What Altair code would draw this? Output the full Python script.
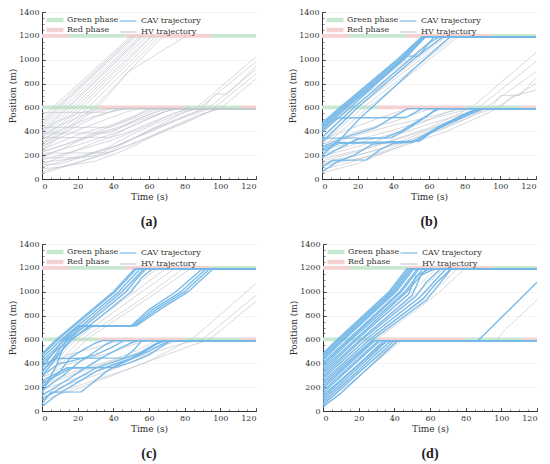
import altair as alt
import pandas as pd

# ---------------- signal phases (s) at the two stop lines (m) ----------------
phase_loc = [600, 600, 600, 600, 1200, 1200, 1200, 1200]
phase_start = [0, 32, 80, 112, 0, 15, 47, 95]
phase_end = [32, 80, 112, 120, 15, 47, 95, 120]
phase_kind = ["Green phase", "Red phase", "Green phase", "Red phase",
              "Red phase", "Green phase", "Red phase", "Green phase"]

# ---------------- trajectories: lists of (time s, position m) ----------------
a_cav = []
a_hv = [
    [(0, 505), (6, 600), (50, 1200)],
    [(0, 485), (8, 600), (51, 1200)],
    [(0, 465), (9, 600), (52, 1200)],
    [(0, 450), (10, 600), (53, 1200)],
    [(0, 430), (12, 600), (55, 1200)],
    [(0, 410), (14, 600), (56, 1200)],
    [(0, 390), (15, 600), (57, 1200)],
    [(0, 370), (17, 600), (59, 1200)],
    [(0, 345), (19, 600), (61, 1200)],
    [(0, 320), (21, 600), (62, 1200)],
    [(0, 300), (23, 600), (64, 1200)],
    [(0, 280), (26, 600), (66, 1200)],
    [(0, 260), (29, 600), (68, 1200)],
    [(0, 240), (31, 600), (49, 905), (81, 1200)],
    [(0, 558), (38, 560), (43, 590), (86, 590), (120, 1025)],
    [(0, 432), (38, 434), (50, 510), (58, 565), (63, 590), (88, 590), (120, 985)],
    [(0, 383), (38, 386), (52, 490), (64, 560), (70, 590), (90, 590), (97, 710), (104, 712), (120, 945)],
    [(0, 346), (38, 350), (54, 470), (68, 560), (74, 590), (93, 590), (120, 920)],
    [(0, 216), (37, 220), (50, 330), (64, 440), (78, 545), (86, 590), (96, 590), (120, 880)],
    [(0, 176), (22, 180), (36, 260), (50, 370), (66, 480), (80, 565), (88, 590), (100, 590), (120, 840)],
    [(0, 121), (10, 125), (26, 200), (44, 290), (62, 420), (80, 530), (92, 590), (120, 590)],
    [(0, 300), (18, 430), (30, 520), (40, 570), (46, 590), (120, 590)],
    [(0, 275), (20, 410), (36, 500), (48, 565), (54, 590), (120, 590)],
    [(0, 250), (22, 380), (38, 450), (52, 530), (60, 590), (120, 590)],
    [(0, 200), (20, 285), (40, 380), (58, 490), (70, 570), (76, 590), (120, 590)],
    [(0, 160), (20, 240), (40, 330), (58, 440), (74, 550), (82, 590), (120, 590)],
    [(0, 100), (16, 170), (40, 270), (60, 390), (78, 510), (90, 590), (120, 590)],
    [(0, 60), (20, 140), (40, 235), (60, 350), (80, 470), (96, 580), (100, 590), (120, 590)],
    [(0, 85), (10, 100), (30, 150), (46, 240), (64, 370), (84, 500), (98, 590), (120, 590)],
    [(0, 140), (30, 195), (48, 320), (68, 450), (88, 560), (94, 590), (120, 590)],
    [(0, 225), (15, 300), (35, 420), (50, 500), (60, 560), (66, 590), (120, 590)],
    [(0, 330), (12, 420), (28, 520), (38, 560), (44, 580), (50, 590), (120, 590)],
    [(0, 180), (12, 260), (30, 380), (44, 440), (56, 520), (66, 575), (72, 590), (120, 590)],
    [(0, 120), (14, 210), (32, 320), (48, 390), (62, 480), (76, 560), (84, 590), (120, 590)],
    [(0, 45), (14, 110), (34, 200), (52, 300), (70, 420), (88, 540), (100, 590), (120, 590)],
    [(0, 360), (10, 450), (24, 540), (34, 575), (40, 590), (120, 590)],
    [(0, 400), (8, 480), (20, 550), (30, 580), (36, 590), (120, 590)],
    [(0, 230), (24, 340), (42, 420), (56, 500), (68, 560), (76, 590), (120, 590)],
]

b_cav = [
    [(0, 470), (10, 600), (42, 1000), (56, 1193), (120, 1193)],
    [(0, 458), (11, 600), (43, 1000), (57, 1193), (120, 1193)],
    [(0, 445), (12, 600), (44, 1000), (57, 1193), (120, 1193)],
    [(0, 430), (13, 600), (45, 1000), (58, 1193), (120, 1193)],
    [(0, 410), (14, 600), (46, 1000), (58, 1193), (120, 1193)],
    [(0, 395), (16, 600), (47, 1030), (54, 1030), (63, 1193), (120, 1193)],
    [(0, 345), (18, 600), (49, 1000), (60, 1140), (66, 1193), (120, 1193)],
    [(0, 305), (20, 600), (51, 1000), (68, 1193), (120, 1193)],
    [(0, 200), (10, 330), (22, 520), (28, 600), (55, 970), (72, 1193), (120, 1193)],
    [(0, 440), (9, 512), (47, 515), (56, 590), (120, 590)],
    [(0, 343), (39, 345), (48, 420), (56, 500), (62, 560), (66, 590), (120, 590)],
    [(0, 250), (8, 305), (51, 312), (60, 390), (68, 460), (78, 530), (86, 575), (90, 590), (120, 590)],
    [(0, 235), (10, 300), (50, 305), (58, 360), (66, 430), (74, 500), (82, 560), (88, 590), (120, 590)],
    [(0, 100), (6, 157), (25, 160), (32, 240), (40, 300), (55, 320), (62, 400), (72, 470), (80, 520), (88, 575), (91, 590), (120, 590)],
    [(0, 60), (8, 140), (18, 200), (28, 290), (38, 310), (54, 318), (64, 420), (74, 490), (84, 560), (89, 590), (120, 590)],
    [(0, 180), (10, 260), (20, 335), (35, 345), (44, 400), (52, 470), (60, 540), (64, 590), (120, 590)],
    [(0, 270), (12, 345), (30, 430), (40, 520), (48, 590), (120, 590)],
]
b_hv = [
    [(0, 420), (13, 600), (48, 1000), (64, 1200)],
    [(0, 380), (15, 600), (50, 1000), (68, 1200)],
    [(0, 350), (17, 600), (53, 1000), (70, 1200)],
    [(0, 320), (20, 600), (55, 1000), (73, 1200)],
    [(0, 290), (23, 600), (58, 1000), (75, 1200)],
    [(0, 260), (26, 600), (60, 1000), (77, 1200)],
    [(0, 330), (12, 400), (30, 500), (44, 570), (50, 590), (120, 590)],
    [(0, 290), (20, 400), (40, 480), (55, 560), (62, 590), (120, 590)],
    [(0, 210), (20, 300), (40, 380), (56, 470), (70, 560), (76, 590), (120, 590)],
    [(0, 150), (20, 230), (40, 330), (60, 430), (76, 540), (82, 590), (120, 590)],
    [(0, 120), (18, 190), (38, 280), (58, 400), (78, 520), (86, 590), (120, 590)],
    [(0, 80), (16, 140), (36, 240), (56, 370), (76, 490), (88, 590), (120, 590)],
    [(0, 50), (20, 130), (40, 250), (60, 380), (80, 500), (92, 590), (120, 590)],
    [(0, 260), (20, 370), (40, 450), (60, 520), (76, 580), (84, 600), (120, 1060)],
    [(0, 230), (20, 330), (40, 410), (60, 500), (78, 570), (88, 600), (120, 985)],
    [(0, 190), (24, 290), (44, 380), (62, 470), (80, 550), (92, 600), (120, 900)],
    [(0, 170), (26, 260), (46, 350), (66, 450), (84, 550), (95, 600), (100, 700), (111, 702), (120, 850)],
    [(0, 135), (28, 230), (48, 320), (68, 420), (86, 540), (98, 600), (120, 800)],
    [(0, 110), (30, 200), (50, 300), (70, 400), (88, 520), (100, 600), (106, 690), (120, 745)],
]

c_cav = [
    [(0, 480), (8, 600), (40, 1000), (52, 1193), (120, 1193)],
    [(0, 465), (9, 600), (41, 1000), (53, 1193), (120, 1193)],
    [(0, 445), (11, 600), (43, 1000), (55, 1193), (120, 1193)],
    [(0, 420), (13, 600), (45, 1000), (57, 1193), (120, 1193)],
    [(0, 400), (15, 600), (47, 1000), (58, 1193), (120, 1193)],
    [(0, 330), (17, 600), (50, 1000), (56, 1120), (62, 1193), (120, 1193)],
    [(0, 360), (12, 600), (20, 712), (50, 715), (60, 850), (75, 1000), (90, 1193), (120, 1193)],
    [(0, 320), (14, 600), (24, 712), (51, 715), (62, 850), (78, 1000), (92, 1193), (120, 1193)],
    [(0, 290), (16, 600), (28, 712), (52, 715), (64, 850), (80, 1000), (94, 1193), (120, 1193)],
    [(0, 150), (8, 380), (15, 650), (22, 712), (53, 715), (66, 850), (82, 1000), (96, 1193), (120, 1193)],
    [(0, 380), (8, 440), (46, 445), (52, 520), (56, 590), (120, 590)],
    [(0, 300), (10, 400), (14, 410), (30, 470), (40, 540), (46, 590), (120, 590)],
    [(0, 250), (14, 362), (40, 365), (50, 440), (58, 500), (64, 560), (68, 590), (120, 590)],
    [(0, 230), (16, 360), (42, 368), (52, 420), (60, 470), (66, 530), (72, 590), (120, 590)],
    [(0, 60), (5, 158), (22, 160), (28, 230), (36, 330), (44, 400), (52, 450), (60, 500), (66, 550), (72, 590), (120, 590)],
    [(0, 40), (8, 130), (20, 240), (30, 330), (40, 390), (50, 440), (58, 510), (64, 560), (70, 590), (120, 590)],
    [(0, 200), (10, 330), (16, 450), (24, 520), (30, 570), (34, 590), (120, 590)],
    [(0, 170), (12, 300), (20, 400), (28, 480), (36, 560), (40, 590), (120, 590)],
    [(0, 130), (14, 260), (24, 360), (34, 450), (44, 530), (50, 570), (54, 590), (120, 590)],
    [(0, 100), (16, 240), (30, 360), (40, 410), (54, 480), (62, 550), (67, 590), (120, 590)],
]
c_hv = [
    [(0, 440), (10, 600), (44, 1000), (60, 1200)],
    [(0, 380), (13, 600), (48, 1000), (65, 1200)],
    [(0, 340), (16, 600), (52, 1000), (70, 1200)],
    [(0, 300), (19, 600), (56, 1000), (75, 1200)],
    [(0, 270), (22, 600), (58, 960), (66, 1050), (80, 1200)],
    [(0, 240), (25, 600), (60, 950), (84, 1200)],
    [(0, 350), (14, 470), (30, 530), (40, 575), (46, 590), (120, 590)],
    [(0, 280), (16, 400), (36, 480), (50, 550), (58, 590), (120, 590)],
    [(0, 220), (18, 330), (38, 420), (54, 510), (64, 590), (120, 590)],
    [(0, 150), (20, 250), (40, 350), (58, 460), (70, 560), (74, 590), (120, 590)],
    [(0, 90), (20, 190), (40, 300), (60, 420), (76, 540), (82, 590), (120, 590)],
    [(0, 210), (20, 320), (40, 420), (60, 520), (74, 580), (84, 600), (120, 1070)],
    [(0, 180), (22, 290), (44, 400), (64, 500), (80, 570), (90, 600), (120, 970)],
    [(0, 120), (24, 230), (46, 340), (66, 450), (84, 550), (94, 600), (120, 920)],
]

d_cav = [
    [(0, 485), (8, 600), (37, 1000), (47, 1193), (120, 1193)],
    [(0, 470), (9, 600), (38, 1000), (48, 1193), (120, 1193)],
    [(0, 455), (10, 600), (39, 1000), (49, 1193), (120, 1193)],
    [(0, 440), (11, 600), (40, 1000), (50, 1193), (120, 1193)],
    [(0, 425), (12, 600), (41, 1000), (51, 1193), (120, 1193)],
    [(0, 405), (14, 600), (43, 1000), (53, 1193), (120, 1193)],
    [(0, 390), (15, 600), (44, 1000), (54, 1193), (120, 1193)],
    [(0, 370), (16, 600), (46, 1000), (56, 1193), (120, 1193)],
    [(0, 350), (18, 600), (47, 1000), (58, 1193), (120, 1193)],
    [(0, 330), (19, 600), (48, 980), (52, 1130), (60, 1193), (120, 1193)],
    [(0, 310), (21, 600), (50, 970), (55, 1140), (63, 1193), (120, 1193)],
    [(0, 290), (22, 600), (52, 960), (58, 1080), (66, 1193), (120, 1193)],
    [(0, 270), (24, 600), (54, 950), (62, 1080), (69, 1193), (120, 1193)],
    [(0, 250), (26, 600), (56, 940), (64, 1080), (72, 1193), (120, 1193)],
    [(0, 230), (28, 600), (58, 930), (66, 1080), (72, 1193), (120, 1193)],
    [(0, 210), (28, 590), (120, 590)],
    [(0, 190), (29, 590), (120, 590)],
    [(0, 170), (31, 590), (120, 590)],
    [(0, 150), (32, 590), (120, 590)],
    [(0, 130), (33, 560), (36, 590), (120, 590)],
    [(0, 110), (34, 590), (120, 590)],
    [(0, 90), (36, 590), (120, 590)],
    [(0, 70), (38, 590), (120, 590)],
    [(0, 50), (40, 590), (120, 590)],
    [(0, 35), (10, 150), (42, 590), (87, 590), (120, 1080)],
]
d_hv = [
    [(0, 360), (18, 600), (50, 1000), (64, 1200)],
    [(0, 320), (21, 600), (54, 1000), (68, 1200)],
    [(0, 280), (24, 600), (58, 1000), (72, 1200)],
    [(0, 240), (27, 600), (62, 1000), (76, 1200)],
    [(0, 200), (30, 600), (64, 980), (80, 1200)],
    [(0, 100), (20, 330), (42, 590), (120, 590)],
    [(0, 60), (20, 290), (44, 590), (120, 590)],
    [(0, 140), (36, 560), (40, 590), (120, 590)],
    [(0, 80), (42, 590), (97, 590), (102, 680), (120, 930)],
]

panel_tags = ["(a)", "(b)", "(c)", "(d)"]

# ---------------- styling ----------------
BLUE = "#74b7e8"
GREY = "#c2c7ce"
BAR_HALF = 16
FONT = "DejaVu Serif"
W, H = 214, 167


def traj_df(trajs, label, prefix):
    rows = []
    for i, tr in enumerate(trajs):
        for k, (t, y) in enumerate(tr):
            rows.append({"vid": f"{prefix}{i}", "type": label, "t": t, "y": y, "k": k})
    return pd.DataFrame(rows, columns=["vid", "type", "t", "y", "k"])


ph = pd.DataFrame({
    "t0": phase_start,
    "t1": phase_end,
    "lo": [p - BAR_HALF for p in phase_loc],
    "hi": [p + BAR_HALF for p in phase_loc],
    "phase": phase_kind,
})

xvals = list(range(0, 121, 20))
yvals = list(range(0, 1401, 200))
xminor = list(range(0, 121, 5))
yminor = list(range(0, 1401, 50))


def panel(cav, hv, tag):
    xs = alt.Scale(domain=[0, 120], nice=False)
    ys = alt.Scale(domain=[0, 1400], nice=False)
    fill_scale = alt.Scale(domain=["Green phase", "Red phase"], range=["#c9e8d1", "#f6d1d1"])
    stroke_scale = alt.Scale(domain=["CAV trajectory", "HV trajectory"], range=[BLUE, GREY])

    main_x = alt.Axis(values=xvals, title="Time (s)", ticks=False, grid=False, format="d",
                      domainColor="#333", domainWidth=1, labelPadding=3, titlePadding=2)
    main_y = alt.Axis(values=yvals, title="Position (m)", ticks=False, grid=True, format="d",
                      gridColor="#ededed", gridWidth=0.6, domainColor="#333", domainWidth=1,
                      labelPadding=3, titlePadding=1)
    major_x = alt.Axis(values=xvals, orient="bottom", labels=False, domain=False, grid=False,
                       title=None, tickSize=3.5, offset=-3.5, tickColor="#333", tickWidth=0.8)
    major_y = alt.Axis(values=yvals, orient="left", labels=False, domain=False, grid=False,
                       title=None, tickSize=3.5, offset=-3.5, tickColor="#333", tickWidth=0.8)
    minor_x = alt.Axis(values=xminor, orient="bottom", labels=False, domain=False, grid=False,
                       title=None, tickSize=2, offset=-2, tickColor="#333", tickWidth=0.6)
    minor_y = alt.Axis(values=yminor, orient="left", labels=False, domain=False, grid=False,
                       title=None, tickSize=2, offset=-2, tickColor="#333", tickWidth=0.6)

    fill_legend = alt.Legend(orient="none", legendX=8, legendY=3, title=None,
                             symbolType="M-1.7,-0.45H1.7V0.45H-1.7Z", symbolSize=100,
                             symbolStrokeWidth=0, labelOffset=7, padding=0, rowPadding=1,
                             labelFont=FONT, labelFontSize=8, labelColor="#333")
    stroke_legend = alt.Legend(orient="none", legendX=80, legendY=3, title=None,
                               symbolType="M-1.7,0H1.7", symbolSize=100,
                               symbolStrokeWidth=1.3, labelOffset=7, padding=0, rowPadding=1,
                               labelFont=FONT, labelFontSize=8, labelColor="#333")

    bars = alt.Chart(ph).mark_rect(strokeWidth=0).encode(
        x=alt.X("t0:Q", scale=xs, axis=main_x),
        x2="t1:Q",
        y=alt.Y("lo:Q", scale=ys, axis=main_y),
        y2="hi:Q",
        fill=alt.Fill("phase:N", scale=fill_scale, legend=fill_legend),
    )
    hv_layer = alt.Chart(traj_df(hv, "HV trajectory", "h")).mark_line(
        strokeWidth=0.8, opacity=0.85).encode(
        x=alt.X("t:Q", scale=xs, axis=major_x),
        y=alt.Y("y:Q", scale=ys, axis=major_y),
        detail="vid:N",
        order="k:Q",
        stroke=alt.Stroke("type:N", scale=stroke_scale, legend=stroke_legend),
    )
    cav_layer = alt.Chart(traj_df(cav, "CAV trajectory", "c")).mark_line(
        strokeWidth=1.4, opacity=0.95).encode(
        x=alt.X("t:Q", scale=xs, axis=None),
        y=alt.Y("y:Q", scale=ys, axis=None),
        detail="vid:N",
        order="k:Q",
        stroke=alt.Stroke("type:N", scale=stroke_scale, legend=stroke_legend),
    )
    minor = alt.Chart(ph).mark_point(opacity=0).encode(
        x=alt.X("t0:Q", scale=xs, axis=minor_x),
        y=alt.Y("lo:Q", scale=ys, axis=minor_y),
    )
    return alt.layer(bars, hv_layer, cav_layer, minor).resolve_axis(
        x="independent", y="independent"
    ).properties(
        width=W, height=H,
        title=alt.TitleParams(tag, orient="bottom", font="Liberation Serif", fontSize=14,
                              fontWeight="bold", color="#222", offset=14),
    )


pa = panel(a_cav, a_hv, panel_tags[0])
pb = panel(b_cav, b_hv, panel_tags[1])
pc = panel(c_cav, c_hv, panel_tags[2])
pd_ = panel(d_cav, d_hv, panel_tags[3])

top = alt.hconcat(pa, pb, spacing=30).resolve_scale(fill="independent", stroke="independent")
bottom = alt.hconcat(pc, pd_, spacing=30).resolve_scale(fill="independent", stroke="independent")

chart = alt.vconcat(top, bottom, spacing=11).resolve_scale(
    fill="independent", stroke="independent"
).configure_view(stroke=None).configure_axis(
    labelFont=FONT, labelFontSize=8, labelColor="#333",
    titleFont=FONT, titleFontSize=9, titleFontWeight="normal", titleColor="#333",
).properties(background="white", padding={"left": 0, "top": 0, "right": 0, "bottom": 0})

chart.save("out.html", embed_options={"renderer": "svg", "actions": False})
